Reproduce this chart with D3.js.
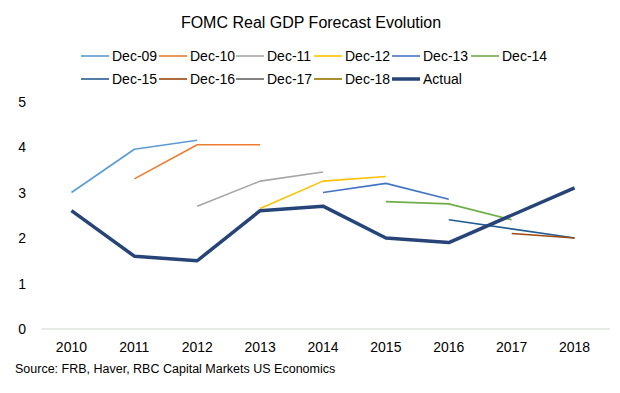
<!DOCTYPE html>
<html><head><meta charset="utf-8">
<script src="https://cdn.jsdelivr.net/npm/d3@7"></script>
<style>body{margin:0;background:#fff}text{font-family:"Liberation Sans",Arial,sans-serif;fill:#000}</style>
</head><body><svg id="c" width="620" height="393"></svg>
<script>
const years = ["2010","2011","2012","2013","2014","2015","2016","2017","2018"];
const seriesNames = ["Dec-09","Dec-10","Dec-11","Dec-12","Dec-13","Dec-14","Dec-15","Dec-16","Dec-17","Dec-18","Actual"];
const dec09 = [3.0, 3.95, 4.15, null, null, null, null, null, null];
const dec10 = [null, 3.3, 4.05, 4.05, null, null, null, null, null];
const dec11 = [null, null, 2.7, 3.25, 3.45, null, null, null, null];
const dec12 = [null, null, null, 2.65, 3.25, 3.35, null, null, null];
const dec13 = [null, null, null, null, 3.0, 3.2, 2.85, null, null];
const dec14 = [null, null, null, null, null, 2.8, 2.75, 2.4, null];
const dec15 = [null, null, null, null, null, null, 2.4, 2.2, 2.0];
const dec16 = [null, null, null, null, null, null, null, 2.1, 2.0];
const dec17 = [null, null, null, null, null, null, null, null, 2.5];
const dec18 = [null, null, null, null, null, null, null, null, 3.0];
const actual = [2.6, 1.6, 1.5, 2.6, 2.7, 2.0, 1.9, 2.5, 3.1];
const yTicks = [0,1,2,3,4,5];
const colors = ["#5B9BD5","#ED7D31","#A5A5A5","#FFC000","#4472C4","#70AD47","#255E91","#9E480E","#636363","#997300","#264478"];
const allSeries = [dec09,dec10,dec11,dec12,dec13,dec14,dec15,dec16,dec17,dec18,actual];

const svg = d3.select("#c");
const x = d3.scaleBand().domain(years).range([40,606]);
const y = d3.scaleLinear().domain([0,5]).range([329,101.5]);

svg.append("text").attr("x",311).attr("y",28).attr("text-anchor","middle").style("font-size","16px").text("FOMC Real GDP Forecast Evolution");

// baseline
svg.append("line").attr("x1",42).attr("x2",610).attr("y1",y(0)).attr("y2",y(0)).attr("stroke","#D0D8CC").attr("stroke-width",1);

// y labels
svg.selectAll(".yl").data(yTicks).enter().append("text").attr("x",26).attr("y",d=>y(d)+5).attr("text-anchor","end").style("font-size","14px").text(d=>d);
// x labels
svg.selectAll(".xl").data(years).enter().append("text").attr("x",d=>x(d)+x.bandwidth()/2).attr("y",352).attr("text-anchor","middle").style("font-size","14px").text(d=>d);

const line = d3.line().defined(d=>d.v!=null).x(d=>x(d.k)+x.bandwidth()/2).y(d=>y(d.v));
allSeries.forEach((s,i)=>{
  const isA = i===allSeries.length-1;
  svg.append("path").datum(years.map((k,j)=>({k,v:s[j]}))).attr("d",line).attr("fill","none")
    .attr("stroke",colors[i]).attr("stroke-width",isA?3.5:1.6).attr("stroke-linejoin","round");
});

// legend
const legX = [81,159,236,314,392,471];
seriesNames.forEach((n,i)=>{
  const row = i<6?0:1, col = i<6?i:i-6;
  const lx = legX[col], ly = row===0?56:79;
  const isA = n==="Actual";
  svg.append("line").attr("x1",lx).attr("x2",lx+28).attr("y1",ly).attr("y2",ly).attr("stroke",colors[i]).attr("stroke-width",isA?3.5:1.6);
  svg.append("text").attr("x",lx+31).attr("y",ly+5).style("font-size","14px").text(n);
});

svg.append("text").attr("x",15).attr("y",373).style("font-size","12.5px").text("Source: FRB, Haver, RBC Capital Markets US Economics");
</script></body></html>
